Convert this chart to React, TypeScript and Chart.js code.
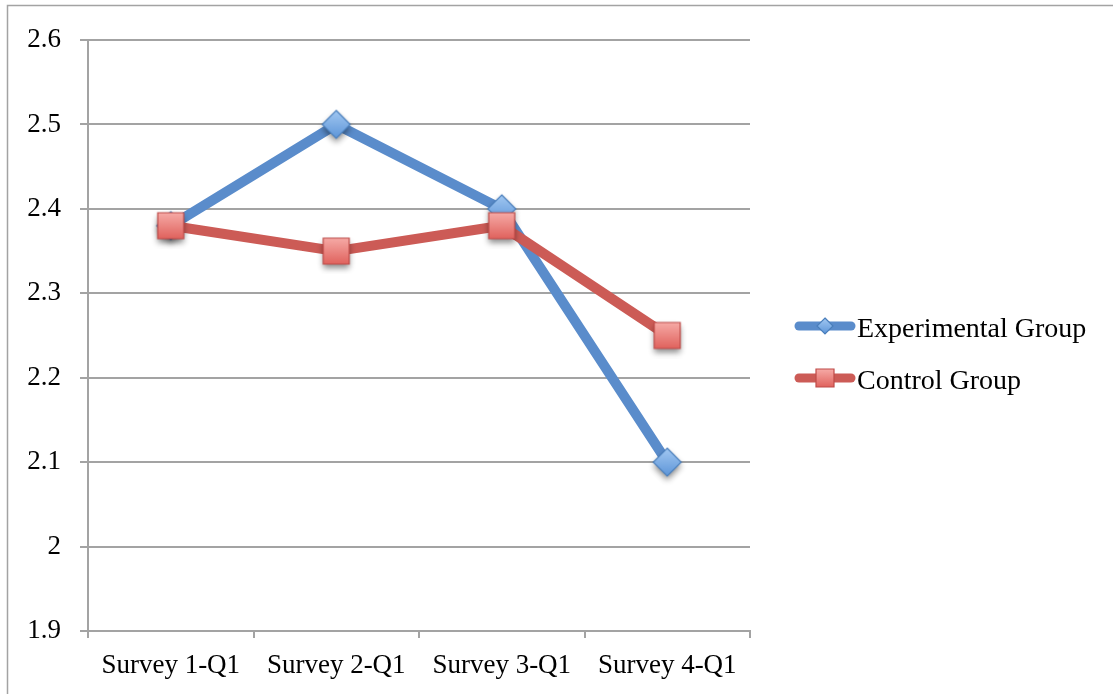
import React, { useEffect, useRef } from "react";
import { Chart, registerables } from "chart.js";

Chart.register(...registerables);

// Survey means per group
const categories = ["Survey 1-Q1", "Survey 2-Q1", "Survey 3-Q1", "Survey 4-Q1"];
const experimentalGroup = [2.38, 2.5, 2.4, 2.1];
const controlGroup = [2.38, 2.35, 2.38, 2.25];
const seriesNames = ["Experimental Group", "Control Group"];
const yMin = 1.9;
const yMax = 2.6;
const yStep = 0.1;

const W = 1113;
const H = 694;
const FONT = "'Liberation Serif', 'Times New Roman', serif";
const GRID = "#a3a3a3";
const BLUE = "#5a8ccb";
const RED = "#cc5b56";

type Shape = "diamond" | "square";

function makeMarker(
  shape: Shape,
  half: number,
  top: string,
  bottom: string,
  stroke: string,
  shadow: boolean
): HTMLCanvasElement {
  const pad = shadow ? 10 : 2;
  const size = Math.ceil(2 * (half + pad));
  const c = document.createElement("canvas");
  c.width = size;
  c.height = size;
  const g = c.getContext("2d")!;
  const cx = size / 2;
  const cy = size / 2;
  const path = () => {
    g.beginPath();
    if (shape === "diamond") {
      g.moveTo(cx, cy - half);
      g.lineTo(cx + half, cy);
      g.lineTo(cx, cy + half);
      g.lineTo(cx - half, cy);
      g.closePath();
    } else {
      g.rect(cx - half, cy - half, 2 * half, 2 * half);
    }
  };
  const grad = g.createLinearGradient(0, cy - half, 0, cy + half);
  grad.addColorStop(0, top);
  grad.addColorStop(1, bottom);
  if (shadow) {
    g.save();
    g.shadowColor = "rgba(0,0,0,0.45)";
    g.shadowBlur = 6;
    g.shadowOffsetY = 4;
    path();
    g.fillStyle = grad;
    g.fill();
    g.restore();
  }
  path();
  g.fillStyle = grad;
  g.fill();
  g.lineWidth = 1.2;
  g.strokeStyle = stroke;
  g.stroke();
  return c;
}

export default function App() {
  const ref = useRef<HTMLCanvasElement | null>(null);

  useEffect(() => {
    if (!ref.current) return;

    const diamond = makeMarker("diamond", 14, "#a2c8f2", "#5d95d8", "#4a7ebb", true);
    const square = makeMarker("square", 13, "#f6aaa6", "#e0625d", "#be4b48", true);
    const legendDiamond = makeMarker("diamond", 8, "#a2c8f2", "#5d95d8", "#4a7ebb", false);
    const legendSquare = makeMarker("square", 9, "#f6aaa6", "#e0625d", "#be4b48", false);

    const framePlugin = {
      id: "frame",
      beforeDraw(chart: Chart) {
        const ctx = chart.ctx;
        ctx.save();
        ctx.fillStyle = "#ffffff";
        ctx.fillRect(0, 0, W, H);
        ctx.strokeStyle = GRID;
        ctx.lineWidth = 1.5;
        ctx.beginPath();
        ctx.moveTo(7.5, H);
        ctx.lineTo(7.5, 5.5);
        ctx.lineTo(W, 5.5);
        ctx.stroke();
        ctx.restore();
      },
    };

    const legendPlugin = {
      id: "sideLegend",
      afterDraw(chart: Chart) {
        const ctx = chart.ctx;
        const items = [
          { label: seriesNames[0], color: BLUE, marker: legendDiamond, y: 326 },
          { label: seriesNames[1], color: RED, marker: legendSquare, y: 378 },
        ];
        ctx.save();
        items.forEach((it) => {
          ctx.strokeStyle = it.color;
          ctx.lineWidth = 9;
          ctx.lineCap = "round";
          ctx.beginPath();
          ctx.moveTo(799, it.y);
          ctx.lineTo(851, it.y);
          ctx.stroke();
          ctx.drawImage(it.marker, 825 - it.marker.width / 2, it.y - it.marker.height / 2);
          ctx.fillStyle = "#000";
          ctx.font = `28px ${FONT}`;
          ctx.textBaseline = "middle";
          ctx.textAlign = "left";
          ctx.fillText(it.label, 857, it.y + 4);
        });
        ctx.restore();
      },
    };

    const chart = new Chart(ref.current, {
      type: "line",
      data: {
        labels: categories,
        datasets: [
          {
            label: seriesNames[0],
            data: experimentalGroup,
            borderColor: BLUE,
            backgroundColor: BLUE,
            borderWidth: 10,
            borderCapStyle: "round",
            borderJoinStyle: "round",
            pointStyle: diamond as any,
            pointRadius: 14,
            tension: 0,
            order: 2,
          },
          {
            label: seriesNames[1],
            data: controlGroup,
            borderColor: RED,
            backgroundColor: RED,
            borderWidth: 10,
            borderCapStyle: "round",
            borderJoinStyle: "round",
            pointStyle: square as any,
            pointRadius: 13,
            tension: 0,
            order: 1,
          },
        ],
      },
      options: {
        responsive: false,
        animation: false,
        events: [],
        layout: { padding: { left: 0, top: 40, right: W - 750, bottom: 0 } },
        plugins: {
          legend: { display: false },
          tooltip: { enabled: false },
        },
        scales: {
          x: {
            type: "category",
            offset: true,
            afterFit: (s: any) => {
              s.height = H - 631;
            },
            grid: {
              offset: true,
              drawOnChartArea: false,
              drawTicks: true,
              tickLength: 7,
              color: GRID,
              lineWidth: 2,
            },
            border: { display: true, color: GRID, width: 2 },
            ticks: {
              color: "#000",
              font: { family: FONT, size: 27 },
              padding: 12,
              maxRotation: 0,
              autoSkip: false,
            },
          },
          y: {
            min: yMin,
            max: yMax,
            afterFit: (s: any) => {
              s.width = 88;
            },
            grid: {
              color: GRID,
              lineWidth: 2,
              drawTicks: true,
              tickLength: 8,
            },
            border: { display: true, color: GRID, width: 2 },
            ticks: {
              stepSize: yStep,
              color: "#000",
              font: { family: FONT, size: 27 },
              padding: 19,
              callback: (v: any) => String(Math.round(Number(v) * 10) / 10),
            },
          },
        },
      },
      plugins: [framePlugin, legendPlugin],
    });

    return () => chart.destroy();
  }, []);

  return (
    <div style={{ position: "absolute", left: 0, top: 0, width: W, height: H }}>
      <canvas ref={ref} width={W} height={H} style={{ display: "block" }} />
    </div>
  );
}
